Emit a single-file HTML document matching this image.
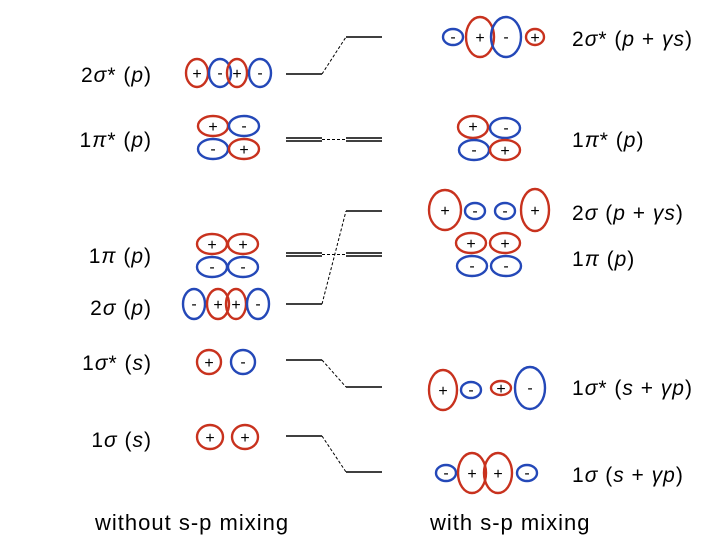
<!DOCTYPE html>
<html><head><style>body{margin:0;background:#fff}svg{display:block}</style></head>
<body>
<svg width="720" height="540" xmlns="http://www.w3.org/2000/svg" font-family="Liberation Sans, sans-serif">
<g fill="none" stroke-width="2.4">
<ellipse cx="197" cy="73" rx="11" ry="14" stroke="#c8321e"/>
<ellipse cx="220" cy="73" rx="11" ry="14" stroke="#2448b8"/>
<ellipse cx="237" cy="73" rx="10" ry="14" stroke="#c8321e"/>
<ellipse cx="260" cy="73" rx="11" ry="14" stroke="#2448b8"/>
<ellipse cx="213" cy="126" rx="15" ry="10" stroke="#c8321e"/>
<ellipse cx="244" cy="126" rx="15" ry="10" stroke="#2448b8"/>
<ellipse cx="213" cy="149" rx="15" ry="10" stroke="#2448b8"/>
<ellipse cx="244" cy="149" rx="15" ry="10" stroke="#c8321e"/>
<ellipse cx="473" cy="127" rx="15" ry="11" stroke="#c8321e"/>
<ellipse cx="505" cy="128" rx="15" ry="10" stroke="#2448b8"/>
<ellipse cx="474" cy="150" rx="15" ry="10" stroke="#2448b8"/>
<ellipse cx="505" cy="150" rx="15" ry="10" stroke="#c8321e"/>
<ellipse cx="453" cy="37" rx="10" ry="8" stroke="#2448b8"/>
<ellipse cx="480" cy="37" rx="14" ry="20" stroke="#c8321e"/>
<ellipse cx="506" cy="37" rx="15" ry="20" stroke="#2448b8"/>
<ellipse cx="535" cy="37" rx="9" ry="8" stroke="#c8321e"/>
<ellipse cx="445" cy="210" rx="16" ry="20" stroke="#c8321e"/>
<ellipse cx="475" cy="211" rx="10" ry="8" stroke="#2448b8"/>
<ellipse cx="505" cy="211" rx="10" ry="8" stroke="#2448b8"/>
<ellipse cx="535" cy="210" rx="14" ry="21" stroke="#c8321e"/>
<ellipse cx="212" cy="244" rx="15" ry="10" stroke="#c8321e"/>
<ellipse cx="243" cy="244" rx="15" ry="10" stroke="#c8321e"/>
<ellipse cx="212" cy="267" rx="15" ry="10" stroke="#2448b8"/>
<ellipse cx="243" cy="267" rx="15" ry="10" stroke="#2448b8"/>
<ellipse cx="471" cy="243" rx="15" ry="10" stroke="#c8321e"/>
<ellipse cx="505" cy="243" rx="15" ry="10" stroke="#c8321e"/>
<ellipse cx="472" cy="266" rx="15" ry="10" stroke="#2448b8"/>
<ellipse cx="506" cy="266" rx="15" ry="10" stroke="#2448b8"/>
<ellipse cx="194" cy="304" rx="11" ry="15" stroke="#2448b8"/>
<ellipse cx="218" cy="304" rx="11" ry="15" stroke="#c8321e"/>
<ellipse cx="236" cy="304" rx="10" ry="15" stroke="#c8321e"/>
<ellipse cx="258" cy="304" rx="11" ry="15" stroke="#2448b8"/>
<ellipse cx="209" cy="362" rx="12" ry="12" stroke="#c8321e"/>
<ellipse cx="243" cy="362" rx="12" ry="12" stroke="#2448b8"/>
<ellipse cx="443" cy="390" rx="14" ry="20" stroke="#c8321e"/>
<ellipse cx="471" cy="390" rx="10" ry="8" stroke="#2448b8"/>
<ellipse cx="501" cy="388" rx="10" ry="7" stroke="#c8321e"/>
<ellipse cx="530" cy="388" rx="15" ry="21" stroke="#2448b8"/>
<ellipse cx="210" cy="437" rx="13" ry="12" stroke="#c8321e"/>
<ellipse cx="245" cy="437" rx="13" ry="12" stroke="#c8321e"/>
<ellipse cx="446" cy="473" rx="10" ry="8" stroke="#2448b8"/>
<ellipse cx="472" cy="473" rx="14" ry="20" stroke="#c8321e"/>
<ellipse cx="498" cy="473" rx="14" ry="20" stroke="#c8321e"/>
<ellipse cx="527" cy="473" rx="10" ry="8" stroke="#2448b8"/>
</g>
<g stroke="#000" stroke-width="1.6" fill="none">
<line x1="286" y1="74" x2="322" y2="74"/><line x1="346" y1="37" x2="382" y2="37"/>
<line x1="286" y1="138" x2="322" y2="138"/><line x1="286" y1="141" x2="322" y2="141"/>
<line x1="346" y1="138" x2="382" y2="138"/><line x1="346" y1="141" x2="382" y2="141"/>
<line x1="346" y1="211" x2="382" y2="211"/>
<line x1="286" y1="253" x2="322" y2="253"/><line x1="286" y1="256" x2="322" y2="256"/>
<line x1="346" y1="253" x2="382" y2="253"/><line x1="346" y1="256" x2="382" y2="256"/>
<line x1="286" y1="304" x2="322" y2="304"/>
<line x1="286" y1="360" x2="322" y2="360"/><line x1="346" y1="387" x2="382" y2="387"/>
<line x1="286" y1="436" x2="322" y2="436"/><line x1="346" y1="472" x2="382" y2="472"/>
</g>
<g stroke="#000" stroke-width="1" stroke-dasharray="3,2" fill="none">
<line x1="322" y1="74" x2="346" y2="37"/>
<line x1="322" y1="139.5" x2="346" y2="139.5"/>
<line x1="322" y1="254.5" x2="346" y2="254.5"/>
<line x1="322" y1="304" x2="346" y2="211"/>
<line x1="322" y1="360" x2="346" y2="387"/>
<line x1="322" y1="436" x2="346" y2="472"/>
</g>
<g font-size="16" text-anchor="middle" fill="#000">
<text x="197" y="79">+</text><text x="220" y="78">-</text><text x="237" y="79">+</text><text x="260" y="78">-</text>
<text x="213" y="132">+</text><text x="244" y="131">-</text><text x="213" y="154">-</text><text x="244" y="155">+</text>
<text x="473" y="132">+</text><text x="506" y="133">-</text><text x="474" y="155">-</text><text x="505" y="156">+</text>
<text x="453" y="42">-</text><text x="480" y="43">+</text><text x="506" y="42">-</text><text x="535" y="43">+</text>
<text x="445" y="216">+</text><text x="475" y="216">-</text><text x="505" y="216">-</text><text x="535" y="216">+</text>
<text x="212" y="250">+</text><text x="243" y="250">+</text><text x="212" y="272">-</text><text x="243" y="272">-</text>
<text x="471" y="249">+</text><text x="505" y="249">+</text><text x="472" y="271">-</text><text x="506" y="271">-</text>
<text x="194" y="309">-</text><text x="218" y="310">+</text><text x="236" y="310">+</text><text x="258" y="309">-</text>
<text x="209" y="368">+</text><text x="243" y="367">-</text>
<text x="443" y="396">+</text><text x="471" y="395">-</text><text x="501" y="394">+</text><text x="530" y="393">-</text>
<text x="210" y="443">+</text><text x="245" y="443">+</text>
<text x="446" y="478">-</text><text x="472" y="479">+</text><text x="498" y="479">+</text><text x="527" y="478">-</text>
</g>
<g font-size="21" fill="#000" letter-spacing="1">
<g text-anchor="end">
<text x="152" y="82">2<tspan font-style="italic">σ</tspan>* (<tspan font-style="italic">p</tspan>)</text>
<text x="152" y="147">1<tspan font-style="italic">π</tspan>* (<tspan font-style="italic">p</tspan>)</text>
<text x="152" y="263">1<tspan font-style="italic">π</tspan> (<tspan font-style="italic">p</tspan>)</text>
<text x="152" y="315">2<tspan font-style="italic">σ</tspan> (<tspan font-style="italic">p</tspan>)</text>
<text x="152" y="370">1<tspan font-style="italic">σ</tspan>* (<tspan font-style="italic">s</tspan>)</text>
<text x="152" y="447">1<tspan font-style="italic">σ</tspan> (<tspan font-style="italic">s</tspan>)</text>
</g>
<text x="572" y="46">2<tspan font-style="italic">σ</tspan>* (<tspan font-style="italic">p</tspan> + <tspan font-style="italic">γs</tspan>)</text>
<text x="572" y="147">1<tspan font-style="italic">π</tspan>* (<tspan font-style="italic">p</tspan>)</text>
<text x="572" y="220">2<tspan font-style="italic">σ</tspan> (<tspan font-style="italic">p</tspan> + <tspan font-style="italic">γs</tspan>)</text>
<text x="572" y="266">1<tspan font-style="italic">π</tspan> (<tspan font-style="italic">p</tspan>)</text>
<text x="572" y="395">1<tspan font-style="italic">σ</tspan>* (<tspan font-style="italic">s</tspan> + <tspan font-style="italic">γp</tspan>)</text>
<text x="572" y="482">1<tspan font-style="italic">σ</tspan> (<tspan font-style="italic">s</tspan> + <tspan font-style="italic">γp</tspan>)</text>
<text x="95" y="530" font-size="22">without s-p mixing</text>
<text x="430" y="530" font-size="22">with s-p mixing</text>
</g>
</svg>
</body></html>
